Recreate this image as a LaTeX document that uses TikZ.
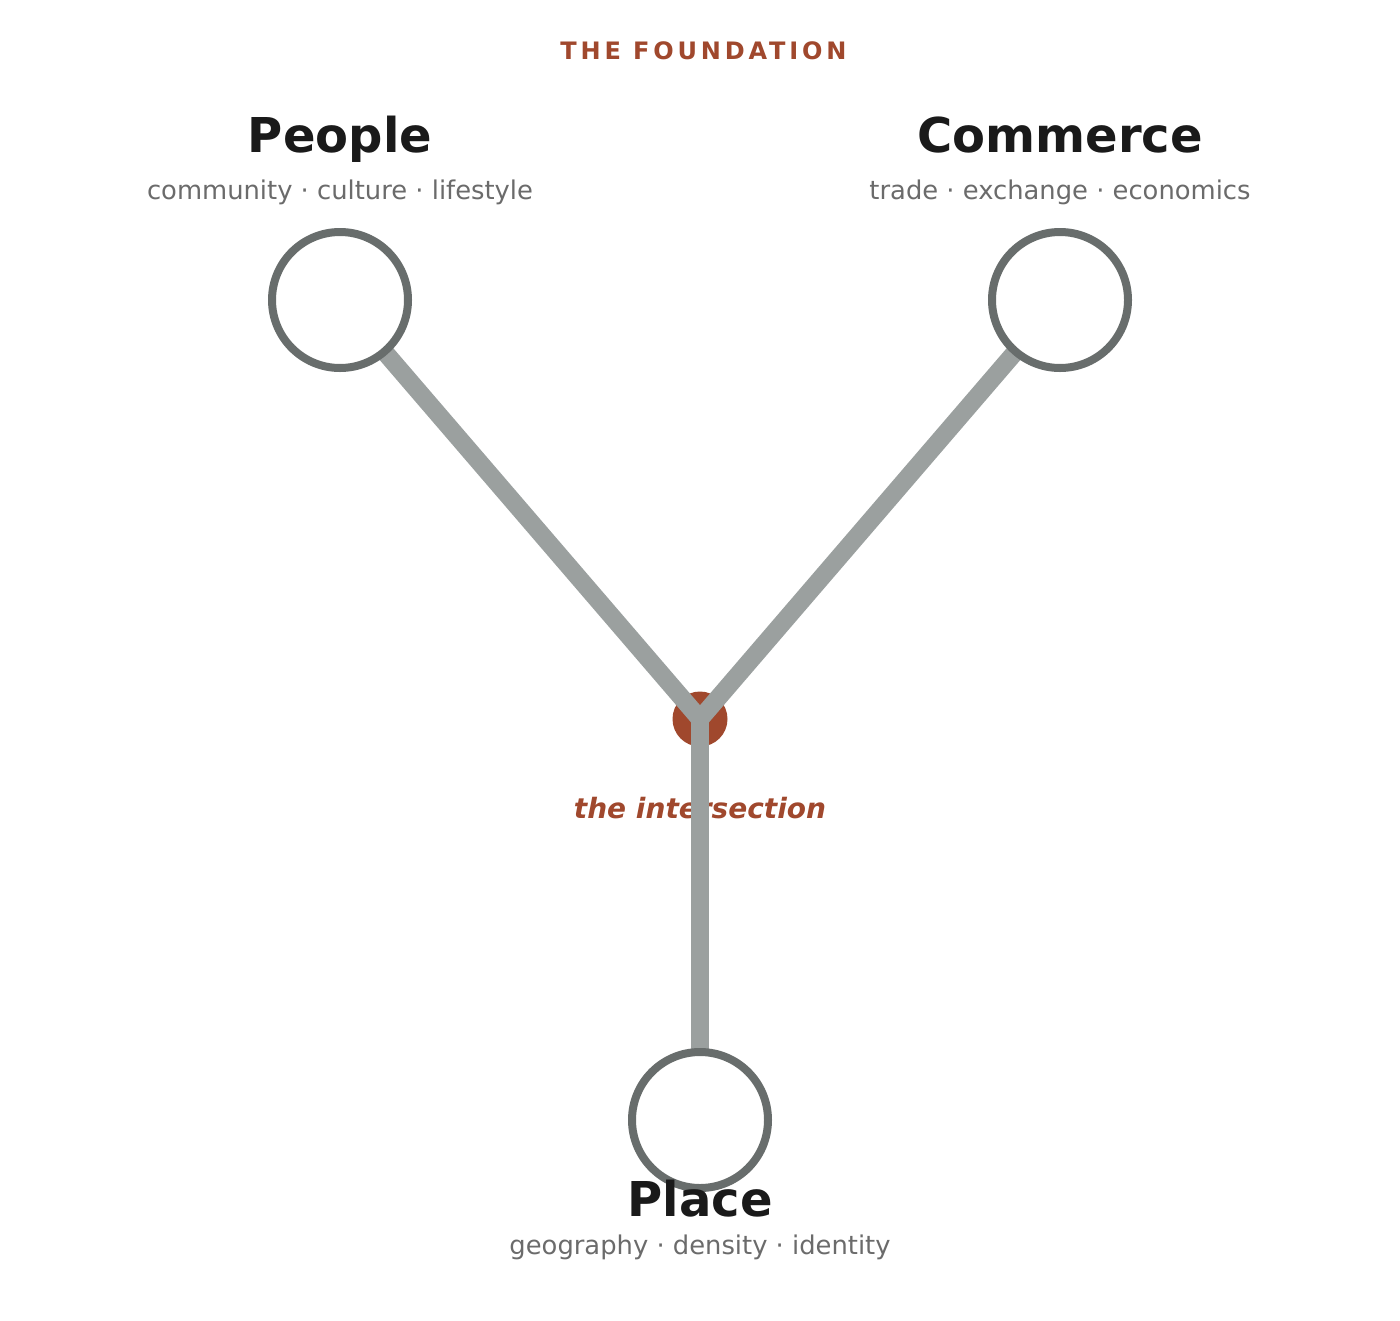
\documentclass[tikz,border=0pt]{standalone}
\usepackage{fontspec}
\setmainfont{DejaVu Sans}
\newfontfamily\trackfont[LetterSpace=16]{DejaVu Sans}
\definecolor{accent}{HTML}{A0482D}
\definecolor{ink}{HTML}{1A1A1A}
\definecolor{subgray}{HTML}{6B6B6B}
\definecolor{ringgray}{HTML}{686D6C}
\definecolor{linegray}{HTML}{9BA09F}
\begin{document}
\begin{tikzpicture}[x=1pt,y=-1pt,
  hub/.style={circle,fill=white,draw=ringgray,line width=8pt,minimum size=136pt,inner sep=0pt},
  conn/.style={draw=linegray,line width=18pt,line cap=butt},
  heading/.style={anchor=base,text=ink,font=\fontsize{48}{56}\selectfont\bfseries,inner sep=0pt},
  subline/.style={anchor=base,text=subgray,font=\fontsize{25.8}{30}\selectfont,inner sep=0pt},
  dotstyle/.style={circle,fill=accent,minimum size=55pt,inner sep=0pt}]
\useasboundingbox[fill=white] (0,0) rectangle (1400,1320);
\node[anchor=base,text=accent,font=\trackfont\fontsize{24}{28}\selectfont\bfseries,inner sep=0pt] (title) at (703.5,59.5) {THE FOUNDATION};
\node[dotstyle] (center) at (700,719) {};
\node[anchor=base,text=accent,font=\fontsize{28}{32}\selectfont\bfseries\itshape,inner sep=0pt] (inter) at (700,818) {the intersection};
\coordinate (peoplec) at (340,300);
\coordinate (commercec) at (1060,300);
\coordinate (placec) at (700,1120);
\draw[conn] (peoplec) -- (center.center);
\draw[conn] (commercec) -- (center.center);
\draw[conn] (center.center) -- (placec);
\node[hub] (people) at (peoplec) {};
\node[hub] (commerce) at (commercec) {};
\node[hub] (place) at (placec) {};
\node[heading] (peoplet) at (340,152) {People};
\node[subline] (peoples) at (340,199.5) {community · culture · lifestyle};
\node[heading] (commercet) at (1060,152) {Commerce};
\node[subline] (commerces) at (1060,199.5) {trade · exchange · economics};
\node[heading] (placet) at (700,1216.5) {Place};
\node[subline] (places) at (700,1254.5) {geography · density · identity};
\end{tikzpicture}
\end{document}
